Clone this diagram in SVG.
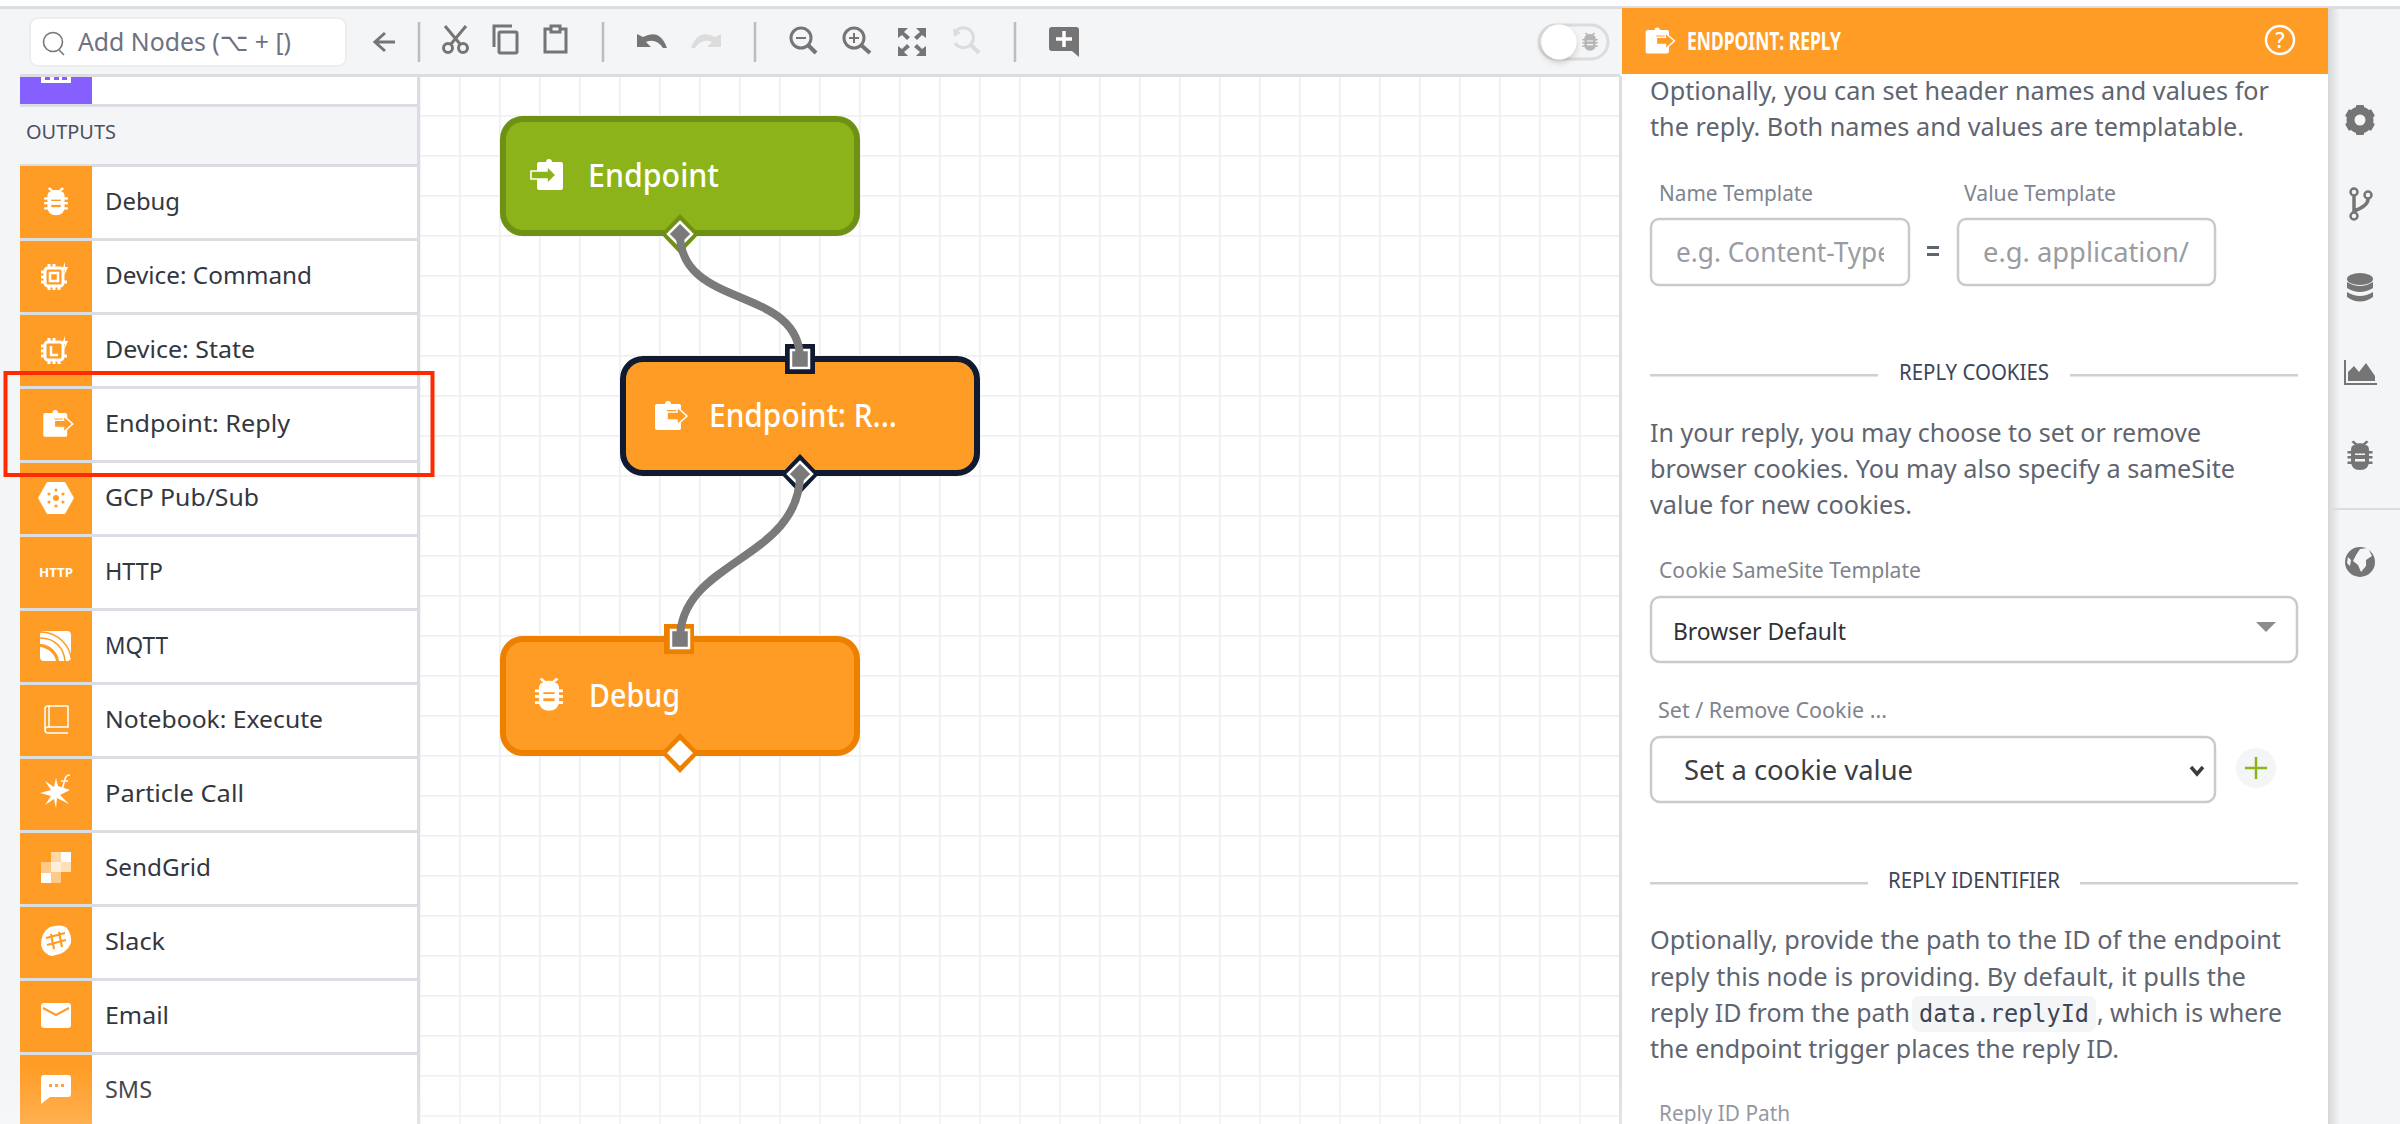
<svg xmlns="http://www.w3.org/2000/svg" xmlns:xlink="http://www.w3.org/1999/xlink" width="2400" height="1124" viewBox="0 0 2400 1124">
<style>
text{font-family:"Noto Sans","DejaVu Sans",sans-serif}
.row{font-size:24px;fill:#33373f}
.body{font-size:24.500px;fill:#5f6570}
.lab{font-size:21.500px;fill:#7f848e}
.ph{font-size:27px;fill:#9a9ca1}
.hd{font-size:22px;fill:#3d4558}
.nt{font-size:32px;fill:#fff;font-weight:500}
.sep{fill:none;stroke:#bcbdc0;stroke-width:2.500}
.ln{fill:#cfd0d3}
.box{fill:#fff;stroke:#c9cacd;stroke-width:2.500}
.tile{fill:#ff9c25}
.rl{fill:#dcdde2}
.ti{fill:none;stroke:#757575;stroke-width:3}
.sq{fill:#7a7a7a;stroke:#fff;stroke-width:2.500}
.wire{fill:none;stroke:#7a7a7a;stroke-width:8}
</style>
<defs>
<pattern id="grid" patternUnits="userSpaceOnUse" x="459" y="115" width="40" height="40"><rect width="40" height="40" fill="#fff"/><rect width="1.600" height="40" fill="#eeeff1"/><rect width="40" height="1.600" fill="#eeeff1"/></pattern>
<linearGradient id="fade" x1="0" y1="0" x2="0" y2="1"><stop offset="0" stop-color="#fff" stop-opacity="0"/><stop offset="1" stop-color="#fff" stop-opacity=".2"/></linearGradient>
<linearGradient id="sh" x1="0" y1="0" x2="1" y2="0"><stop offset="0" stop-color="#d5d6d8"/><stop offset="1" stop-color="#f4f5f7"/></linearGradient>
<clipPath id="c1"><rect x="1660" y="225" width="224" height="55"/></clipPath>
<filter id="ks" x="-30%" y="-30%" width="160%" height="170%"><feDropShadow dx="0" dy="3" stdDeviation="3" flood-color="#000" flood-opacity=".18"/></filter>
<g id="bug"><path fill-rule="evenodd" d="M-9-6Q-9-11-5-11L-8.500-14-6.500-15.500-3-12.500Q0-13 3-12.500L6.500-15.500 8.500-14 5-11Q9-11 9-6V5Q9 14 0 14Q-9 14-9 5ZM-5-4V-1H5V-4ZM-5 3V6H5V3Z"/><rect x="-12.500" y="-5" width="25" height="2.500"/><rect x="-12.500" y="0" width="25" height="2.500"/><rect x="-12.500" y="5.500" width="25" height="2.500"/></g>
<g id="clipin"><path fill="#fff" d="M-8-12H-1A3 3 0 0 1 5-12H14Q16-12 16-10V14Q16 16 14 16H-8Q-10 16-10 14V-10Q-10-12-8-12Z"/><path stroke="#fff" stroke-width="1.600" d="M-16-3H0V-8L9 1 0 10V5H-16Z"/></g>
<g id="clipout"><path fill="#fff" d="M-14-11H-6A3 3 0 0 1 0-11H8Q10-11 10-9V-5H-4V5H10V13Q10 15 8 15H-14Q-16 15-16 13V-9Q-16-11-14-11Z"/><path stroke="#fff" stroke-width="1.600" d="M-4-3H6V-8L16 1 6 10V5H-4Z"/></g>
<g id="chip" fill="none" stroke="#fff"><rect x="-9" y="-9" width="18" height="18" rx="3" stroke-width="3"/><path stroke-width="3" d="M-5-9V-13M0-9V-13M-5 9V13M0 9V13M5 9V13M-9-5H-13M-9 0H-13M-9 5H-13M9 5H13"/></g>
</defs>

<rect width="2400" height="1124" fill="#fff"/>
<rect x="0" y="8" width="20" height="1116" fill="#f4f5f7"/>
<rect x="420" y="76" width="1200" height="1048" fill="url(#grid)"/>

<g id="toolbar">
<rect x="0" y="6" width="2400" height="3" fill="#dcdde2"/>
<rect x="20" y="9" width="1602" height="66" fill="#f4f5f7"/>
<rect x="20" y="74" width="1602" height="3" fill="#dcdde2"/>
<rect x="30" y="18" width="316" height="48" rx="8" fill="#fff" stroke="#ecedef" stroke-width="2"/>
<circle cx="53" cy="42" r="9.500" fill="none" stroke="#777" stroke-width="1.600"/><path d="M59 50L64 55" stroke="#777" stroke-width="1.600"/>
<text x="78" y="51" font-size="25" fill="#6d7280" textLength="213" lengthAdjust="spacingAndGlyphs">Add Nodes (⌥ + [)</text>
<path class="ti" d="M395 42H376M385 33L375 42 385 51"/>
<path class="sep" d="M419 22V62M603 22V62M755 22V62M1015 22V62"/>
<g class="ti"><circle cx="448" cy="48" r="4.500"/><circle cx="463" cy="48" r="4.500"/><path d="M451 44L466 26M460 44L445 26"/></g>
<path class="ti" d="M512 26H494V47"/><rect class="ti" x="499" y="32" width="18" height="21" rx="1.500"/>
<path class="ti" d="M550 29H545V52H566V29H561M551 26H560V32H551Z"/>
<path fill="#757575" d="M637 34V47H651L646 42Q656 38 663 48H667Q660 28 643 37L637 34Z"/>
<path fill="#dcdcdc" d="M721 34V47H707L712 42Q702 38 695 48H691Q698 28 715 37L721 34Z"/>
<g class="ti"><circle cx="801" cy="38" r="10"/><path stroke-width="4" d="M808 45L816 53"/><path stroke-width="2" d="M796 38H806"/>
<circle cx="854" cy="38" r="10"/><path stroke-width="4" d="M861 45L870 53"/><path stroke-width="2" d="M849 38H859M854 33V43"/></g>
<path fill="#757575" d="M898 28H908L904 32 910 37 907 40 902 35 898 38ZM926 28H916L920 32 914 37 917 40 922 35 926 38ZM898 56H908L904 52 910 47 907 44 902 49 898 46ZM926 56H916L920 52 914 47 917 44 922 49 926 46Z"/>
<path fill="none" stroke="#dcdcdc" stroke-width="3" d="M956 31A10 10 0 1 1 955 43"/><path d="M971 45L979 53" stroke="#dcdcdc" stroke-width="4"/><path fill="#dcdcdc" d="M953 28L961 33 954 37Z"/>
<path fill="#757575" d="M1052 27H1076Q1079 27 1079 30V57L1072 51H1052Q1049 51 1049 48V30Q1049 27 1052 27Z"/><path stroke="#fff" stroke-width="3.500" d="M1064 31V47M1056 39H1072"/>
<rect x="1539" y="25" width="69" height="34" rx="17" fill="#f4f5f7" stroke="#dcdcdc" stroke-width="3"/>
<circle cx="1559" cy="42" r="17.500" fill="#fff" filter="url(#ks)"/>
<use href="#bug" transform="translate(1590 42) scale(.62)" fill="#b5b5b5"/>
</g>

<g id="sidebar">
<rect x="20" y="77" width="398" height="28" fill="#fff"/>
<rect x="20" y="77" width="72" height="27" fill="#8660ff"/>
<path fill="#fff" d="M41 77H71V83H41Z"/><path fill="#8660ff" d="M45 77H50V80H45ZM54 77H59V80H54ZM62 77H67V80H62Z"/>
<rect x="20" y="104" width="398" height="3" class="rl"/>
<rect x="20" y="107" width="398" height="58" fill="#f4f5f7"/>
<text x="26" y="139" font-size="19" fill="#4a5163" textLength="90" lengthAdjust="spacingAndGlyphs">OUTPUTS</text>
<rect x="20" y="164" width="398" height="3" class="rl"/>
<rect x="20" y="166" width="72" height="958" class="tile"/>
<path class="rl" d="M20 238h398v3H20zM20 312h398v3H20zM20 386h398v3H20zM20 460h398v3H20zM20 534h398v3H20zM20 608h398v3H20zM20 682h398v3H20zM20 756h398v3H20zM20 830h398v3H20zM20 904h398v3H20zM20 978h398v3H20zM20 1052h398v3H20z"/>
<rect x="417" y="77" width="3" height="1047" class="rl"/>
<text class="row" x="105" y="210" textLength="75" lengthAdjust="spacingAndGlyphs">Debug</text>
<text class="row" x="105" y="284" textLength="207" lengthAdjust="spacingAndGlyphs">Device: Command</text>
<text class="row" x="105" y="358" textLength="150" lengthAdjust="spacingAndGlyphs">Device: State</text>
<text class="row" x="105" y="432" textLength="185" lengthAdjust="spacingAndGlyphs">Endpoint: Reply</text>
<text class="row" x="105" y="506" textLength="154" lengthAdjust="spacingAndGlyphs">GCP Pub/Sub</text>
<text class="row" x="105" y="580" textLength="58" lengthAdjust="spacingAndGlyphs">HTTP</text>
<text class="row" x="105" y="654" textLength="63" lengthAdjust="spacingAndGlyphs">MQTT</text>
<text class="row" x="105" y="728" textLength="218" lengthAdjust="spacingAndGlyphs">Notebook: Execute</text>
<text class="row" x="105" y="802" textLength="139" lengthAdjust="spacingAndGlyphs">Particle Call</text>
<text class="row" x="105" y="876" textLength="106" lengthAdjust="spacingAndGlyphs">SendGrid</text>
<text class="row" x="105" y="950" textLength="60" lengthAdjust="spacingAndGlyphs">Slack</text>
<text class="row" x="105" y="1024" textLength="64" lengthAdjust="spacingAndGlyphs">Email</text>
<text class="row" x="105" y="1098" textLength="47" lengthAdjust="spacingAndGlyphs">SMS</text>

<use href="#bug" transform="translate(56 202) scale(.95)" fill="#fff"/>
<use href="#chip" transform="translate(54 277)"/>
<rect x="50" y="273" width="8" height="8" fill="none" stroke="#fff" stroke-width="2.500"/><path fill="#fff" d="M65 262L62 270H65L64 276 68 267H65Z"/>
<use href="#chip" transform="translate(54 351)"/>
<path fill="none" stroke="#fff" stroke-width="2.500" d="M51 346V355H58"/><path fill="#fff" d="M65 336L62 344H65L64 350 68 341H65Z"/>
<use href="#clipout" transform="translate(58 423) scale(.92)" fill="#ff9c25"/>
<path fill="#fff" d="M47 482H65L74 498 65 514H47L38 498Z"/>
<g fill="#ff9c25"><circle cx="56" cy="498" r="3"/><circle cx="56" cy="490" r="1.600"/><circle cx="56" cy="506" r="1.600"/><circle cx="49" cy="494" r="1.600"/><circle cx="63" cy="494" r="1.600"/><circle cx="49" cy="502" r="1.600"/><circle cx="63" cy="502" r="1.600"/></g>
<text x="39" y="577" font-size="12" font-weight="700" fill="#fff" textLength="34" lengthAdjust="spacingAndGlyphs">HTTP</text>
<rect x="40" y="631" width="31" height="30" rx="4" fill="#fff"/><g fill="none" stroke="#ff9c25" stroke-width="1.500"><path d="M40 638C55 638 64 648 65 661M40 632C60 632 70 648 71 658"/></g><path fill="#ff9c25" d="M40 644C50 644 58 652 59 661H56C55 654 48 648 40 647Z"/>
<path fill="none" stroke="#fff" stroke-width="1.500" d="M68 706H48Q45 706 45 709V731M68 706V727H48Q45 727 45 730T48 733H68M49 706V727"/>
<path fill="#fff" d="M40 793L51 790 45 781 54 787 56 778 58 786 70 790 60 795 69 804 57 798 56 808 54 799 45 805 51 796Z"/><path fill="none" stroke="#fff" stroke-width="1.500" d="M70 775Q66 775 65 779L62 790M61 781H68"/>
<rect x="61" y="852" width="10" height="10" fill="#fff"/><rect x="51" y="852" width="10" height="10" fill="#ffd6a6"/><rect x="51" y="862" width="10" height="10" fill="#ffeeda"/><rect x="61" y="862" width="10" height="10" fill="#ffdfb8"/><rect x="41" y="862" width="10" height="11" fill="#ffc98a"/><rect x="41" y="873" width="10" height="10" fill="#fff"/><rect x="51" y="872" width="10" height="11" fill="#ffc98a"/>
<path fill="#fff" d="M50 927Q60 924 66 927 72 934 71 943 67 954 52 956 43 954 41 945 41 932 50 927Z"/><path fill="none" stroke="#ff9c25" stroke-width="2.200" d="M51 934L54 949M59 932L62 947M47 945L66 940M46 938L65 933"/>
<rect x="41" y="1003" width="30" height="25" rx="3" fill="#fff"/><path fill="none" stroke="#ff9c25" stroke-width="2" d="M43 1008L56 1015 69 1008"/>
<path fill="#fff" d="M44 1075H68Q71 1075 71 1078V1094Q71 1097 68 1097H50L41 1104V1078Q41 1075 44 1075Z"/><g fill="#ff9c25"><rect x="49" y="1084" width="3" height="3"/><rect x="55" y="1084" width="3" height="3"/><rect x="61" y="1084" width="3" height="3"/></g>
</g>

<g id="node-endpoint">
<rect x="503" y="119" width="354" height="114" rx="20" fill="#8cb319" stroke="#6f9014" stroke-width="6"/>
<use href="#clipin" transform="translate(547 174)" fill="#8cb319"/>
<text class="nt" x="588" y="187" textLength="131" lengthAdjust="spacingAndGlyphs">Endpoint</text>
<path fill="#6f9014" d="M680 214L699 234 680 254 661 234Z"/>
<path class="sq" d="M680 222L692 234 680 246 668 234Z"/>
</g>
<g id="node-reply">
<rect x="623" y="359" width="354" height="114" rx="20" fill="#ff9c25" stroke="#101a30" stroke-width="6"/>
<use href="#clipout" transform="translate(671 415)" fill="#ff9c25"/>
<text class="nt" x="709" y="427" textLength="188" lengthAdjust="spacingAndGlyphs">Endpoint: R...</text>
<rect x="785" y="344" width="30" height="30" fill="#101a30"/>
<rect class="sq" x="791" y="350" width="18" height="18"/>
<path fill="#101a30" d="M800 454L819 474 800 494 781 474Z"/>
<path class="sq" d="M800 462L812 474 800 486 788 474Z"/>
</g>
<g id="node-debug">
<rect x="503" y="639" width="354" height="114" rx="20" fill="#ff9c25" stroke="#ee8000" stroke-width="6"/>
<use href="#bug" transform="translate(549 695) scale(1.120)" fill="#fff"/>
<text class="nt" x="589" y="707" textLength="91" lengthAdjust="spacingAndGlyphs">Debug</text>
<rect x="664" y="624" width="30" height="30" fill="#ee8000"/>
<rect class="sq" x="671" y="630" width="18" height="18"/>
<path fill="#ee8000" d="M680 733L699 753 680 773 661 753Z"/>
<path d="M680 740L693 753 680 766 667 753Z" fill="#fff"/>
</g>
<g id="connectors">
<path class="wire" d="M680 234C680 310 800 285 800 359"/>
<path class="wire" d="M800 474C800 560 680 560 680 639"/>
</g>

<g id="panel">
<rect x="1620" y="74" width="708" height="1050" fill="#fff"/>
<rect x="1619" y="76" width="3" height="1048" class="rl"/>
<rect x="1622" y="8" width="706" height="66" fill="#ff9c25"/>
<use href="#clipout" transform="translate(1660 40) scale(.9)" fill="#ff9c25"/>
<text x="1687" y="50" font-size="25" font-weight="700" fill="#fff" textLength="154" lengthAdjust="spacingAndGlyphs">ENDPOINT: REPLY</text>
<circle cx="2280" cy="40" r="14" fill="none" stroke="#fff" stroke-width="2.500"/>
<text x="2280" y="48" font-size="21" font-weight="500" fill="#fff" text-anchor="middle">?</text>
<text class="body" x="1650" y="100" textLength="619" lengthAdjust="spacingAndGlyphs">Optionally, you can set header names and values for</text>
<text class="body" x="1650" y="136" textLength="594" lengthAdjust="spacingAndGlyphs">the reply. Both names and values are templatable.</text>
<text class="lab" x="1659" y="201" textLength="154" lengthAdjust="spacingAndGlyphs">Name Template</text>
<text class="lab" x="1964" y="201" textLength="152" lengthAdjust="spacingAndGlyphs">Value Template</text>
<rect class="box" x="1651" y="219" width="258" height="66" rx="8"/>
<rect class="box" x="1958" y="219" width="257" height="66" rx="8"/>
<g clip-path="url(#c1)"><text class="ph" x="1676" y="262" textLength="216" lengthAdjust="spacingAndGlyphs">e.g. Content-Type</text></g>
<text class="ph" x="1983" y="262" textLength="206" lengthAdjust="spacingAndGlyphs">e.g. application/</text>
<path fill="#5f6570" d="M1927 246H1939V249H1927ZM1927 253H1939V256H1927Z"/>
<path class="ln" d="M1650 374h228v2.500h-228zM2070 374h228v2.500h-228z"/>
<text class="hd" x="1899" y="380" textLength="150" lengthAdjust="spacingAndGlyphs">REPLY COOKIES</text>
<text class="body" x="1650" y="442" textLength="551" lengthAdjust="spacingAndGlyphs">In your reply, you may choose to set or remove</text>
<text class="body" x="1650" y="478" textLength="585" lengthAdjust="spacingAndGlyphs">browser cookies. You may also specify a sameSite</text>
<text class="body" x="1650" y="514" textLength="262" lengthAdjust="spacingAndGlyphs">value for new cookies.</text>
<text class="lab" x="1659" y="578" textLength="262" lengthAdjust="spacingAndGlyphs">Cookie SameSite Template</text>
<rect class="box" x="1651" y="597" width="646" height="65" rx="9"/>
<text x="1673" y="640" font-size="23" fill="#2f3136" textLength="173" lengthAdjust="spacingAndGlyphs">Browser Default</text>
<path fill="#8c8c8c" d="M2256 622H2276L2266 632Z"/>
<text class="lab" x="1658" y="718" textLength="229" lengthAdjust="spacingAndGlyphs">Set / Remove Cookie ...</text>
<rect class="box" x="1651" y="737" width="564" height="65" rx="9"/>
<text x="1684" y="780" font-size="27" fill="#3a3d43" textLength="229" lengthAdjust="spacingAndGlyphs">Set a cookie value</text>
<path fill="none" stroke="#3c3c3c" stroke-width="3.500" d="M2191 767L2197 774 2203 767"/>
<circle cx="2256" cy="768" r="20" fill="#f4f5f7"/>
<path stroke="#8cb319" stroke-width="2.500" d="M2256 757V779M2245 768H2267"/>
<path class="ln" d="M1650 882h218v2.500h-218zM2080 882h218v2.500h-218z"/>
<text class="hd" x="1888" y="888" textLength="172" lengthAdjust="spacingAndGlyphs">REPLY IDENTIFIER</text>
<text class="body" x="1650" y="949" textLength="631" lengthAdjust="spacingAndGlyphs">Optionally, provide the path to the ID of the endpoint</text>
<text class="body" x="1650" y="986" textLength="596" lengthAdjust="spacingAndGlyphs">reply this node is providing. By default, it pulls the</text>
<text class="body" x="1650" y="1022" textLength="260" lengthAdjust="spacingAndGlyphs">reply ID from the path</text>
<rect x="1912" y="996" width="184" height="36" rx="7" fill="#f4f5f7"/>
<text x="1919" y="1022" font-size="24" fill="#3d4558" style="font-family:'DejaVu Sans Mono',monospace" textLength="170" lengthAdjust="spacingAndGlyphs">data.replyId</text>
<text class="body" x="2097" y="1022" textLength="185" lengthAdjust="spacingAndGlyphs">, which is where</text>
<text class="body" x="1650" y="1058" textLength="469" lengthAdjust="spacingAndGlyphs">the endpoint trigger places the reply ID.</text>
<text class="lab" x="1659" y="1121" textLength="131" lengthAdjust="spacingAndGlyphs">Reply ID Path</text>
</g>

<g id="rail">
<rect x="2328" y="9" width="72" height="1115" fill="#f4f5f7"/>
<rect x="2328" y="9" width="12" height="1115" fill="url(#sh)"/>
<g fill="#757575" stroke="#757575">
<g stroke="none"><rect x="2356" y="105" width="8" height="30" rx="1"/><rect x="2356" y="105" width="8" height="30" rx="1" transform="rotate(60 2360 120)"/><rect x="2356" y="105" width="8" height="30" rx="1" transform="rotate(120 2360 120)"/></g>
<circle cx="2360" cy="120" r="9.500" fill="none" stroke-width="8"/>
<circle cx="2360" cy="120" r="5.500" fill="#f4f5f7" stroke="none"/>
<g fill="none" stroke-width="2.500"><circle cx="2354" cy="192" r="3.500"/><circle cx="2368" cy="195" r="3.500"/><circle cx="2354" cy="216" r="3.500"/></g>
<path fill="none" stroke-width="3.500" d="M2354 196V212M2354 211Q2368 206 2368 199"/>
<g stroke="none"><ellipse cx="2360" cy="279" rx="13" ry="6"/><path d="M2347 282Q2360 290 2373 282V288Q2360 296 2347 288ZM2347 292Q2360 300 2373 292V297Q2360 306 2347 297Z"/>
<path d="M2344 360H2346V383H2377V385H2344ZM2348 381V372L2354 366 2359 372 2366 363 2375 376V381Z"/></g>
</g>
<use href="#bug" transform="translate(2360 456)" fill="#757575"/>
<rect x="2333" y="508" width="67" height="2" fill="#dcdde2"/>
<circle cx="2360" cy="562" r="15" fill="#757575"/>
<path fill="#f4f5f7" d="M2360 549L2368 548 2372 556 2366 560 2366 566 2361 572 2358 565 2353 561 2356 555ZM2348 557L2351 560 2350 566 2347 563Z"/>
</g>

<rect x="0" y="1064" width="2328" height="60" fill="url(#fade)"/>
<rect id="highlight" x="5.500" y="373" width="427" height="102" fill="none" stroke="#ff2a00" stroke-width="4"/>
</svg>
